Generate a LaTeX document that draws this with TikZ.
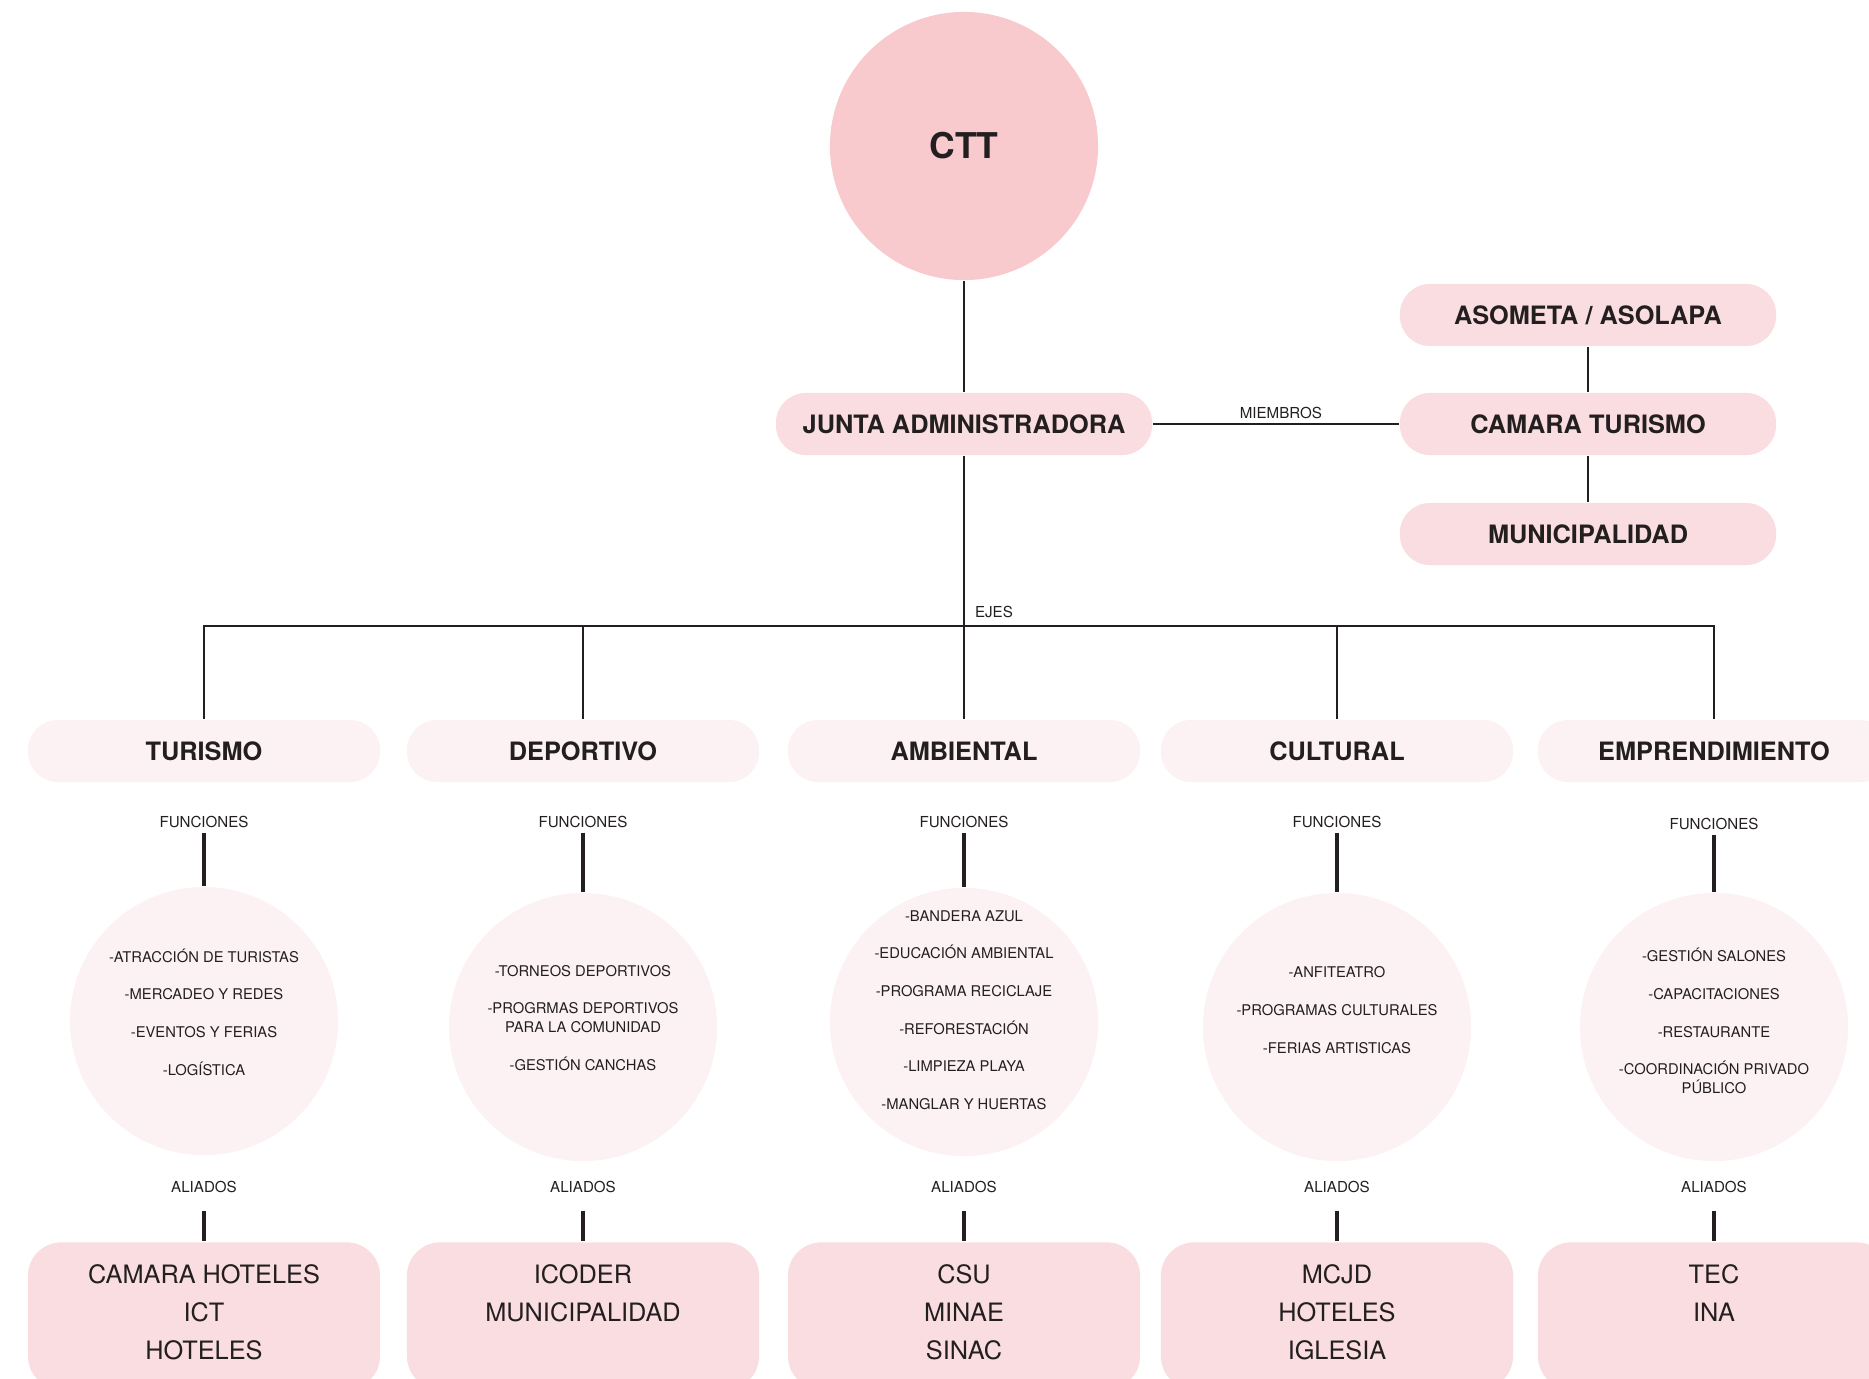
\documentclass[tikz,border=0pt]{standalone}
\usepackage{fontspec}
\setmainfont{TeX Gyre Heros}
\definecolor{cttpink}{HTML}{F8CACD}
\definecolor{boxpink}{HTML}{FADDE0}
\definecolor{palepink}{HTML}{FCF2F3}
\definecolor{ink}{HTML}{231F20}

\begin{document}
\begin{tikzpicture}[x=0.01cm, y=-0.01cm, color=ink, line width=0.75pt,
  head/.style={circle, fill=cttpink, minimum size=2.68cm, inner sep=0pt,
    font=\fontsize{10.1}{12}\selectfont\bfseries},
  org/.style={rounded corners=8.5pt, fill=boxpink, minimum width=3.76cm,
    minimum height=0.62cm, inner sep=0pt, font=\fontsize{7.2}{9}\selectfont\bfseries},
  eje/.style={org, fill=palepink, minimum width=3.52cm},
  funcs/.style={circle, fill=palepink, minimum size=2.68cm, inner sep=0pt},
  items/.style={align=center, inner sep=0pt, font=\fontsize{4.2}{10.7}\selectfont},
  tag/.style={inner sep=1pt, font=\fontsize{4.3}{5}\selectfont},
  stub/.style={line width=1pt},
  allies/.style={anchor=north, rounded corners=9.5pt, fill=boxpink,
    minimum width=3.52cm, minimum height=1.47cm},
  alliestxt/.style={anchor=north, align=center, inner sep=0pt,
    font=\fontsize{7.2}{10.8}\selectfont}]
  \useasboundingbox (0,0) rectangle (1869,1378);

  % top of the tree
  \node[head] (ctt) at (964,146) {CTT};
  \node[org] (junta) at (964,424) {JUNTA ADMINISTRADORA};

  % members
  \node[org] (asometa) at (1588,315) {ASOMETA / ASOLAPA};
  \node[org] (camara) at (1588,424) {CAMARA TURISMO};
  \node[org] (muni) at (1588,534) {MUNICIPALIDAD};

  % ejes
  \coordinate (bus) at (964,626);
  \node[tag] (ejes) at (994,612) {EJES};
  \node[eje] (tur) at (204,751) {TURISMO};
  \node[eje] (dep) at (583,751) {DEPORTIVO};
  \node[eje] (amb) at (964,751) {AMBIENTAL};
  \node[eje] (cul) at (1337,751) {CULTURAL};
  \node[eje] (emp) at (1714,751) {EMPRENDIMIENTO};

  % funciones
  \node[tag] (funTur) at (204,822) {FUNCIONES};
  \node[tag] (funDep) at (583,822) {FUNCIONES};
  \node[tag] (funAmb) at (964,822) {FUNCIONES};
  \node[tag] (funCul) at (1337,822) {FUNCIONES};
  \node[tag] (funEmp) at (1714,824) {FUNCIONES};

  \node[funcs] (cirTur) at (204,1021) {};
  \node[funcs] (cirDep) at (583,1027) {};
  \node[funcs] (cirAmb) at (964,1022) {};
  \node[funcs] (cirCul) at (1337,1027) {};
  \node[funcs] (cirEmp) at (1714,1027) {};

  \node[items] (itTur) at (204,1012) {-ATRACCIÓN DE TURISTAS\\-MERCADEO Y REDES\\-EVENTOS Y FERIAS\\-LOGÍSTICA};
  \node[items] (itDep) at (583,1018) {-TORNEOS DEPORTIVOS\\-PROGRMAS DEPORTIVOS\\[-5.35pt]PARA LA COMUNIDAD\\-GESTIÓN CANCHAS};
  \node[items] (itAmb) at (964,1010) {-BANDERA AZUL\\-EDUCACIÓN AMBIENTAL\\-PROGRAMA RECICLAJE\\-REFORESTACIÓN\\-LIMPIEZA PLAYA\\-MANGLAR Y HUERTAS};
  \node[items] (itCul) at (1337,1010) {-ANFITEATRO\\-PROGRAMAS CULTURALES\\-FERIAS ARTISTICAS};
  \node[items] (itEmp) at (1714,1021) {-GESTIÓN SALONES\\-CAPACITACIONES\\-RESTAURANTE\\-COORDINACIÓN PRIVADO\\[-5.35pt]PÚBLICO};

  % aliados
  \node[tag] (aliTur) at (204,1187) {ALIADOS};
  \node[tag] (aliDep) at (583,1187) {ALIADOS};
  \node[tag] (aliAmb) at (964,1187) {ALIADOS};
  \node[tag] (aliCul) at (1337,1187) {ALIADOS};
  \node[tag] (aliEmp) at (1714,1187) {ALIADOS};

  \node[allies] (boxTur) at (204,1241) {};
  \node[allies] (boxDep) at (583,1241) {};
  \node[allies] (boxAmb) at (964,1241) {};
  \node[allies] (boxCul) at (1337,1241) {};
  \node[allies] (boxEmp) at (1714,1241) {};

  \node[alliestxt] (txtTur) at (204,1263) {CAMARA HOTELES\\ICT\\HOTELES};
  \node[alliestxt] (txtDep) at (583,1263) {ICODER\\MUNICIPALIDAD};
  \node[alliestxt] (txtAmb) at (964,1263) {CSU\\MINAE\\SINAC};
  \node[alliestxt] (txtCul) at (1337,1263) {MCJD\\HOTELES\\IGLESIA};
  \node[alliestxt] (txtEmp) at (1714,1263) {TEC\\INA};

  % connectors
  \draw (ctt) -- (junta);
  \draw (junta) -- (amb);
  \draw (junta) -- node[tag, above, pos=0.52] (miembros) {MIEMBROS} (camara);
  \draw (asometa) -- (camara) -- (muni);
  \draw (tur) |- (bus) -| (emp);
  \draw (dep) -- (dep |- bus);
  \draw (cul) -- (cul |- bus);

  \draw[stub] (funTur) -- (cirTur);
  \draw[stub] (funDep) -- (cirDep);
  \draw[stub] (funAmb) -- (cirAmb);
  \draw[stub] (funCul) -- (cirCul);
  \draw[stub] (funEmp) -- (cirEmp);

  \draw[stub, shorten <=3.7pt] (aliTur) -- (boxTur);
  \draw[stub, shorten <=3.7pt] (aliDep) -- (boxDep);
  \draw[stub, shorten <=3.7pt] (aliAmb) -- (boxAmb);
  \draw[stub, shorten <=3.7pt] (aliCul) -- (boxCul);
  \draw[stub, shorten <=3.7pt] (aliEmp) -- (boxEmp);

\end{tikzpicture}
\end{document}
